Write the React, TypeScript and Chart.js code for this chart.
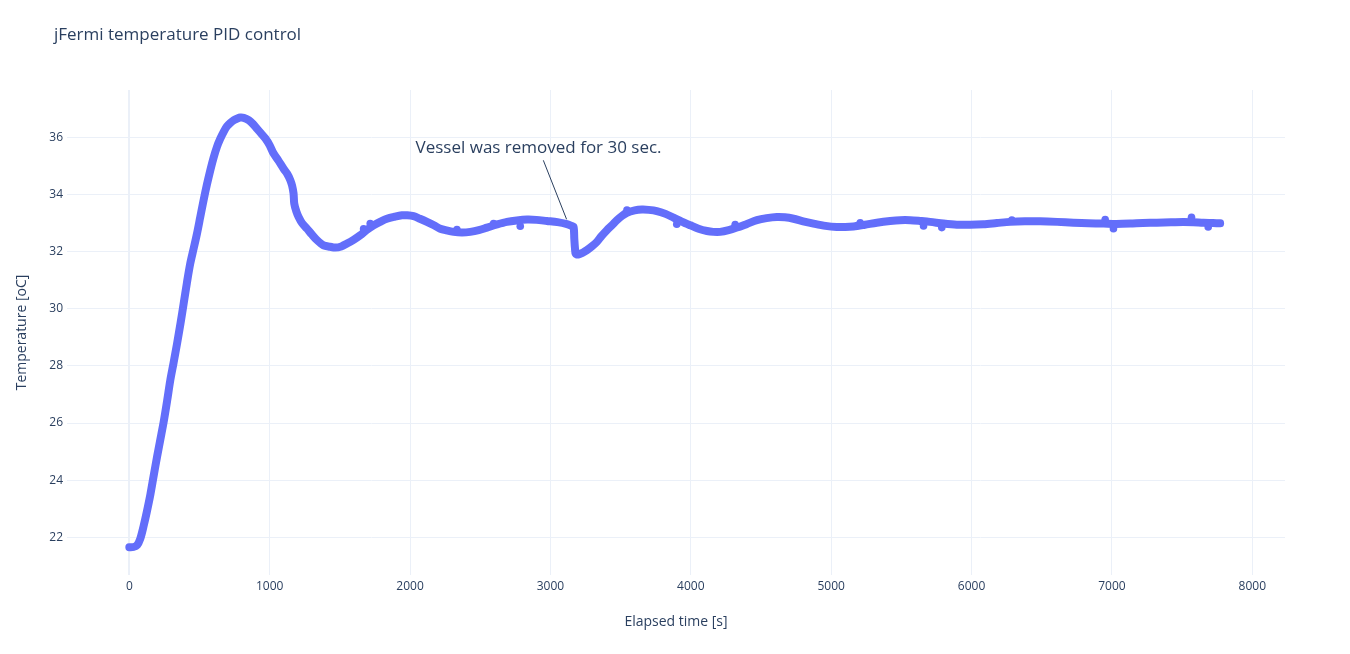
import React, { useEffect, useRef } from "react";
import { Chart, registerables } from "chart.js";

Chart.register(...registerables);

const titleText = "jFermi temperature PID control";
const xTitle = "Elapsed time [s]";
const yTitle = "Temperature [oC]";
const annotationText = "Vessel was removed for 30 sec.";
const annotationX = 3115;
const annotationY = 33.13;

const xTickValues = [0, 1000, 2000, 3000, 4000, 5000, 6000, 7000, 8000];
const yTickValues = [22, 24, 26, 28, 30, 32, 34, 36];

const elapsed = [
  0, 30, 55, 78, 102, 125, 150, 175, 197, 220, 245, 270, 292, 315, 340, 365, 387, 410, 434, 458,
  482, 505, 529, 553, 577, 600, 624, 648, 672, 695, 719, 745, 770, 791, 815, 850, 880, 909, 940, 969,
  1000, 1028, 1060, 1099, 1125, 1147, 1160, 1170, 1175, 1190, 1206, 1230, 1266, 1300, 1337, 1384, 1430, 1467, 1510, 1551,
  1600, 1645, 1690, 1740, 1790, 1835, 1890, 1942, 1980, 2025, 2070, 2120, 2170, 2215, 2260, 2310, 2370, 2429, 2490, 2548,
  2620, 2690, 2760, 2833, 2900, 2975, 3050, 3118, 3150, 3165, 3170, 3175, 3180, 3200, 3230, 3260, 3295, 3331, 3365, 3402,
  3440, 3474, 3510, 3545, 3600, 3652, 3700, 3758, 3820, 3877, 3935, 3996, 4055, 4115, 4160, 4209, 4270, 4328, 4400, 4471,
  4540, 4613, 4670, 4732, 4800, 4874, 4960, 5040, 5100, 5159, 5240, 5325, 5420, 5491, 5563, 5640, 5705, 5800, 5895, 5990,
  6085, 6180, 6275, 6380, 6489, 6610, 6726, 6830, 6940, 7030, 7130, 7220, 7320, 7420, 7509, 7580, 7652, 7720, 7771,
];

const temperature = [
  21.65, 21.66, 21.72, 21.95, 22.4, 22.9, 23.5, 24.2, 24.8, 25.4, 26.05, 26.8, 27.5, 28.1, 28.78, 29.5, 30.18, 30.9, 31.58, 32.1,
  32.63, 33.2, 33.8, 34.35, 34.85, 35.28, 35.66, 35.95, 36.19, 36.38, 36.5, 36.6, 36.66, 36.69, 36.68, 36.6, 36.47, 36.3, 36.13, 35.96,
  35.72, 35.43, 35.2, 34.9, 34.72, 34.5, 34.3, 34.03, 33.68, 33.4, 33.21, 33.0, 32.8, 32.6, 32.4, 32.22, 32.17, 32.14, 32.18, 32.28,
  32.42, 32.57, 32.75, 32.92, 33.05, 33.15, 33.22, 33.27, 33.27, 33.24, 33.15, 33.04, 32.92, 32.8, 32.74, 32.69, 32.67, 32.69, 32.75, 32.84,
  32.95, 33.04, 33.09, 33.12, 33.11, 33.07, 33.03, 32.96, 32.9, 32.86, 32.45, 32.1, 31.93, 31.9, 31.96, 32.05, 32.18, 32.34, 32.55, 32.75,
  32.93, 33.1, 33.25, 33.36, 33.44, 33.47, 33.46, 33.42, 33.32, 33.19, 33.05, 32.92, 32.8, 32.72, 32.69, 32.69, 32.75, 32.84, 32.97, 33.1,
  33.17, 33.21, 33.2, 33.15, 33.06, 32.98, 32.9, 32.86, 32.86, 32.88, 32.94, 33.01, 33.07, 33.1, 33.1, 33.07, 33.04, 32.98, 32.94, 32.94,
  32.96, 33.0, 33.04, 33.06, 33.06, 33.04, 33.01, 32.99, 32.98, 32.97, 32.98, 33.0, 33.01, 33.03, 33.04, 33.03, 33.01, 33.0, 32.99,
];

const strayTimes = [1669, 1716, 2334, 2595, 2785, 3545, 3900, 4316, 5207, 5658, 5788, 6287, 6952, 7011, 7567, 7686];
const strayTemps = [32.8, 32.98, 32.77, 32.98, 32.89, 33.45, 32.96, 32.95, 33.01, 32.9, 32.84, 33.1, 33.12, 32.8, 33.2, 32.86];

const TEXT = "#2a3f5f";
const MARKER = "#636efa";
const GRID = "#ebf0f8";
const FONT = '"Open Sans", verdana, arial, sans-serif';

const overlay = {
  id: "overlay",
  afterDraw(chart: any) {
    const { ctx, scales, chartArea } = chart;
    const xs = scales.x;
    const ys = scales.y;
    ctx.save();
    ctx.fillStyle = TEXT;
    // title
    ctx.font = `17px ${FONT}`;
    ctx.textAlign = "left";
    ctx.textBaseline = "alphabetic";
    ctx.fillText(titleText, 54, 40);
    // axis titles
    ctx.font = `14px ${FONT}`;
    ctx.textAlign = "center";
    ctx.textBaseline = "middle";
    ctx.fillText(xTitle, (chartArea.left + chartArea.right) / 2, 622);
    ctx.save();
    ctx.translate(22, (chartArea.top + chartArea.bottom) / 2);
    ctx.rotate(-Math.PI / 2);
    ctx.fillText(yTitle, 0, 0);
    ctx.restore();
    // annotation
    const px = xs.getPixelForValue(annotationX);
    const py = ys.getPixelForValue(annotationY);
    const cx = px - 28;
    const cy = py - 71;
    const half = 12;
    const f = (py - (cy + half)) / (py - cy);
    ctx.strokeStyle = TEXT;
    ctx.lineWidth = 1;
    ctx.beginPath();
    ctx.moveTo(px, py);
    ctx.lineTo(px + (cx - px) * f, py + (cy - py) * f);
    ctx.stroke();
    ctx.font = `17px ${FONT}`;
    ctx.textAlign = "center";
    ctx.textBaseline = "middle";
    ctx.fillText(annotationText, cx, cy);
    ctx.restore();
  },
};

export default function App() {
  const ref = useRef<HTMLCanvasElement>(null);
  useEffect(() => {
    if (!ref.current) return;
    const mainData = elapsed.map((t, i) => ({ x: t, y: temperature[i] }));
    const strayData = strayTimes.map((t, i) => ({ x: t, y: strayTemps[i] }));
    const chart = new Chart(ref.current, {
      type: "scatter",
      data: {
        datasets: [
          {
            data: mainData,
            showLine: true,
            borderColor: MARKER,
            backgroundColor: MARKER,
            borderWidth: 8,
            borderCapStyle: "round",
            borderJoinStyle: "round",
            pointRadius: 0,
            tension: 0.3,
          } as any,
          {
            data: strayData,
            showLine: false,
            backgroundColor: MARKER,
            borderColor: MARKER,
            borderWidth: 0,
            pointRadius: 3.8,
          },
        ],
      },
      options: {
        responsive: false,
        animation: false,
        layout: { padding: { top: 90, right: 65, left: 0, bottom: 0 } },
        plugins: { legend: { display: false }, tooltip: { enabled: false }, title: { display: false } },
        scales: {
          x: {
            type: "linear",
            min: -444,
            max: 8233,
            afterFit(scale: any) {
              scale.height = 79;
            },
            afterBuildTicks(scale: any) {
              scale.ticks = xTickValues.map((v) => ({ value: v }));
            },
            grid: {
              color: GRID,
              lineWidth: (c: any) => (c.tick && c.tick.value === 0 ? 2 : 1),
              drawTicks: false,
            },
            border: { display: false },
            ticks: {
              color: TEXT,
              font: { family: FONT, size: 12 },
              padding: 4,
              maxRotation: 0,
              callback: (v: any) => String(v),
            },
          },
          y: {
            type: "linear",
            min: 20.68,
            max: 37.656,
            afterFit(scale: any) {
              scale.width = 67;
            },
            afterBuildTicks(scale: any) {
              scale.ticks = yTickValues.map((v) => ({ value: v }));
            },
            grid: { color: GRID, lineWidth: 1, drawTicks: false },
            border: { display: false },
            ticks: {
              color: TEXT,
              font: { family: FONT, size: 12 },
              padding: 4,
              callback: (v: any) => String(v),
            },
          },
        },
      },
      plugins: [overlay],
    });
    return () => chart.destroy();
  }, []);
  return (
    <div style={{ position: "absolute", left: 0, top: 0, width: 1350, height: 654, background: "#fff" }}>
      <canvas ref={ref} width={1350} height={654} style={{ display: "block" }} />
    </div>
  );
}
